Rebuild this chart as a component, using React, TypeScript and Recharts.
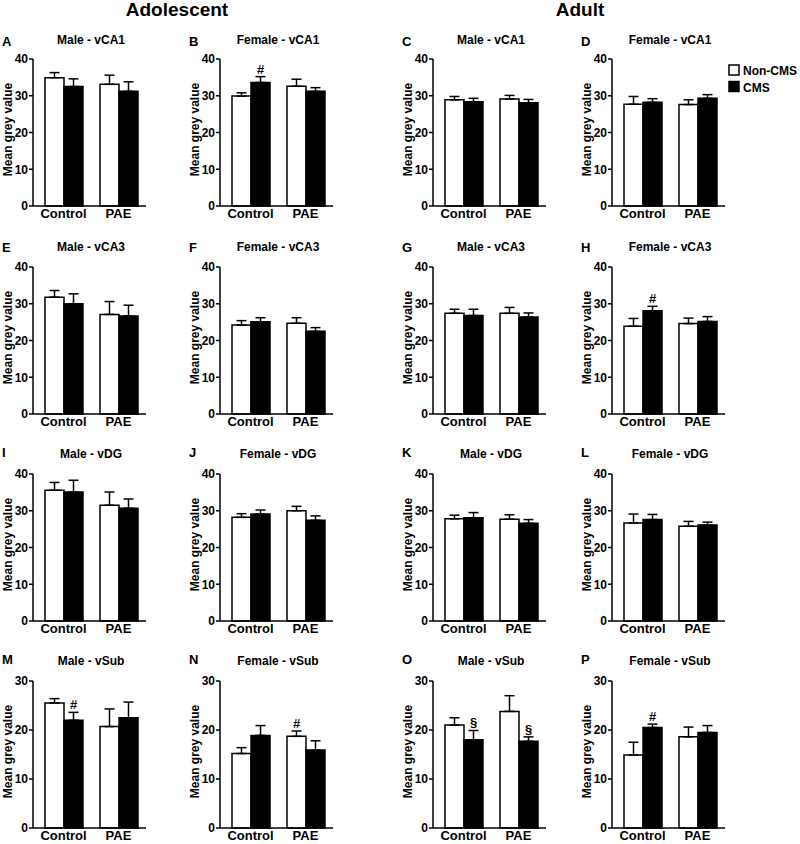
import { BarChart, Bar, XAxis, YAxis, ErrorBar, LabelList } from 'recharts';

const groups = ['Control', 'PAE'];
const panelLetters = ['A', 'B', 'C', 'D', 'E', 'F', 'G', 'H', 'I', 'J', 'K', 'L', 'M', 'N', 'O', 'P'];
const panelTitles = [
  'Male - vCA1', 'Female - vCA1', 'Male - vCA1', 'Female - vCA1',
  'Male - vCA3', 'Female - vCA3', 'Male - vCA3', 'Female - vCA3',
  'Male - vDG', 'Female - vDG', 'Male - vDG', 'Female - vDG',
  'Male - vSub', 'Female - vSub', 'Male - vSub', 'Female - vSub',
];

// [Control, PAE] per panel, A..P
const nonCmsMean = [
  [34.9, 33.1], [29.9, 32.6], [28.9, 29.1], [27.7, 27.6],
  [31.8, 27.1], [24.2, 24.7], [27.4, 27.4], [23.9, 24.6],
  [35.6, 31.5], [28.2, 30.0], [27.8, 27.7], [26.7, 25.8],
  [25.5, 20.7], [15.2, 18.7], [21.0, 23.8], [14.9, 18.6],
];
const nonCmsSem = [
  [1.4, 2.5], [0.9, 1.9], [0.9, 1.0], [2.1, 1.3],
  [1.8, 3.5], [1.2, 1.5], [1.1, 1.6], [2.1, 1.5],
  [2.1, 3.6], [1.0, 1.2], [1.0, 1.2], [2.4, 1.3],
  [0.9, 3.6], [1.2, 1.1], [1.5, 3.2], [2.6, 2.0],
];
const cmsMean = [
  [32.5, 31.2], [33.6, 31.2], [28.4, 28.1], [28.2, 29.3],
  [30.0, 26.7], [25.1, 22.5], [26.8, 26.4], [28.1, 25.2],
  [35.1, 30.7], [29.1, 27.4], [28.1, 26.6], [27.6, 26.1],
  [22.0, 22.5], [18.9, 15.9], [18.0, 17.7], [20.5, 19.5],
];
const cmsSem = [
  [2.1, 2.6], [1.6, 1.0], [0.9, 0.9], [1.0, 1.0],
  [2.7, 2.9], [1.1, 1.0], [1.7, 1.1], [1.2, 1.3],
  [3.2, 2.5], [1.1, 1.2], [1.4, 1.0], [1.4, 0.8],
  [1.6, 3.2], [2.0, 1.9], [1.9, 0.9], [0.7, 1.4],
];
const nonCmsMarks = [
  ['', ''], ['', ''], ['', ''], ['', ''],
  ['', ''], ['', ''], ['', ''], ['', ''],
  ['', ''], ['', ''], ['', ''], ['', ''],
  ['', ''], ['', '#'], ['', ''], ['', ''],
];
const cmsMarks = [
  ['', ''], ['#', ''], ['', ''], ['', ''],
  ['', ''], ['', ''], ['', ''], ['#', ''],
  ['', ''], ['', ''], ['', ''], ['', ''],
  ['#', ''], ['', ''], ['§', '§'], ['#', ''],
];
const yTicksTall = [0, 10, 20, 30, 40];
const yTicksShort = [0, 10, 20, 30];
const legendLabels = ['Non-CMS', 'CMS'];

const FONT = '"Liberation Sans", Arial, sans-serif';
const colX = [33, 220, 433, 612];
const rowY = [59, 267, 474, 681];
const PLOT_H = 147;

function Panel({ idx }: { idx: number }) {
  const row = Math.floor(idx / 4);
  const col = idx % 4;
  const ax = colX[col];
  const yt = rowY[row];
  const ticks = row === 3 ? yTicksShort : yTicksTall;
  const yMax = ticks[ticks.length - 1];
  const pxPerUnit = PLOT_H / yMax;

  const data = groups.map((g, i) => ({
    group: g,
    nc: nonCmsMean[idx][i],
    ncSem: nonCmsSem[idx][i],
    ncErr: [0, nonCmsSem[idx][i]],
    ncMark: nonCmsMarks[idx][i],
    cms: cmsMean[idx][i],
    cmsSem: cmsSem[idx][i],
    cmsErr: [0, cmsSem[idx][i]],
    cmsMark: cmsMarks[idx][i],
  }));

  // significance mark sits just above the error bar
  const markLabel = (semKey: 'ncSem' | 'cmsSem') => (props: any) => {
    const { x, y, width, value, index } = props;
    if (!value) return null;
    const sem = data[index][semKey];
    return (
      <text x={x + width / 2} y={y - sem * pxPerUnit - 3} textAnchor="middle"
        fontSize={13} fontWeight="bold" fill="#000">
        {value}
      </text>
    );
  };

  return (
    <div style={{ position: 'absolute', left: ax - 33, top: yt - 8 }}>
      <BarChart width={152} height={171} data={data} barGap={0} barSize={19}
        margin={{ top: 8, right: 6, left: 3, bottom: 0 }}>
        <XAxis dataKey="group" height={16} padding={{ left: 3, right: 0 }}
          tickLine={false} tickSize={0} tickMargin={3}
          axisLine={{ stroke: '#000', strokeWidth: 1.5 }}
          tick={{ fontSize: 13, fontWeight: 'bold', fill: '#000' }} />
        <YAxis width={30} domain={[0, yMax]} ticks={ticks} interval={0}
          tickSize={4} tickMargin={1}
          axisLine={{ stroke: '#000', strokeWidth: 1.5 }}
          tickLine={{ stroke: '#000', strokeWidth: 1.5 }}
          tick={{ fontSize: 12, fontWeight: 'bold', fill: '#000' }} />
        <Bar dataKey="nc" fill="#fff" stroke="#000" strokeWidth={1.5} isAnimationActive={false}>
          <ErrorBar dataKey="ncErr" width={5} stroke="#000" strokeWidth={1.5} direction="y" isAnimationActive={false} />
          <LabelList dataKey="ncMark" content={markLabel('ncSem')} />
        </Bar>
        <Bar dataKey="cms" fill="#000" stroke="#000" strokeWidth={1.5} isAnimationActive={false}>
          <ErrorBar dataKey="cmsErr" width={5} stroke="#000" strokeWidth={1.5} direction="y" isAnimationActive={false} />
          <LabelList dataKey="cmsMark" content={markLabel('cmsSem')} />
        </Bar>
      </BarChart>
    </div>
  );
}

const letterBase = [46, 251.5, 457, 664];
const titleBase = [43.5, 250.5, 458, 665];

export default function App() {
  return (
    <div style={{ position: 'absolute', left: 0, top: 0, width: 800, height: 844, overflow: 'hidden', background: '#fff', fontFamily: FONT }}>
      {panelLetters.map((_, i) => <Panel key={i} idx={i} />)}
      <svg width={800} height={844} style={{ position: 'absolute', left: 0, top: 0, pointerEvents: 'none' }}
        fontFamily={FONT} fontWeight="bold" fill="#000">
        <text x={177} y={16} fontSize={19} textAnchor="middle">Adolescent</text>
        <text x={580} y={16} fontSize={19} textAnchor="middle">Adult</text>
        {panelLetters.map((letter, i) => {
          const row = Math.floor(i / 4);
          const col = i % 4;
          const ax = colX[col];
          const yt = rowY[row];
          return (
            <g key={letter}>
              <text x={ax - 31} y={letterBase[row]} fontSize={13}>{letter}</text>
              <text x={ax + 58} y={titleBase[row]} fontSize={12} textAnchor="middle">{panelTitles[i]}</text>
              <text transform={`translate(${ax - 25}, ${yt + PLOT_H / 2 - 3}) rotate(-90)`}
                fontSize={12} textAnchor="middle" dy="0.35em">Mean grey value</text>
            </g>
          );
        })}
        {legendLabels.map((label, i) => (
          <g key={label}>
            <rect x={729} y={65 + i * 16.5} width={10} height={10} fill={i === 0 ? '#fff' : '#000'} stroke="#000" strokeWidth={1.5} />
            <text x={743} y={75 + i * 16.5} fontSize={12}>{label}</text>
          </g>
        ))}
      </svg>
    </div>
  );
}
